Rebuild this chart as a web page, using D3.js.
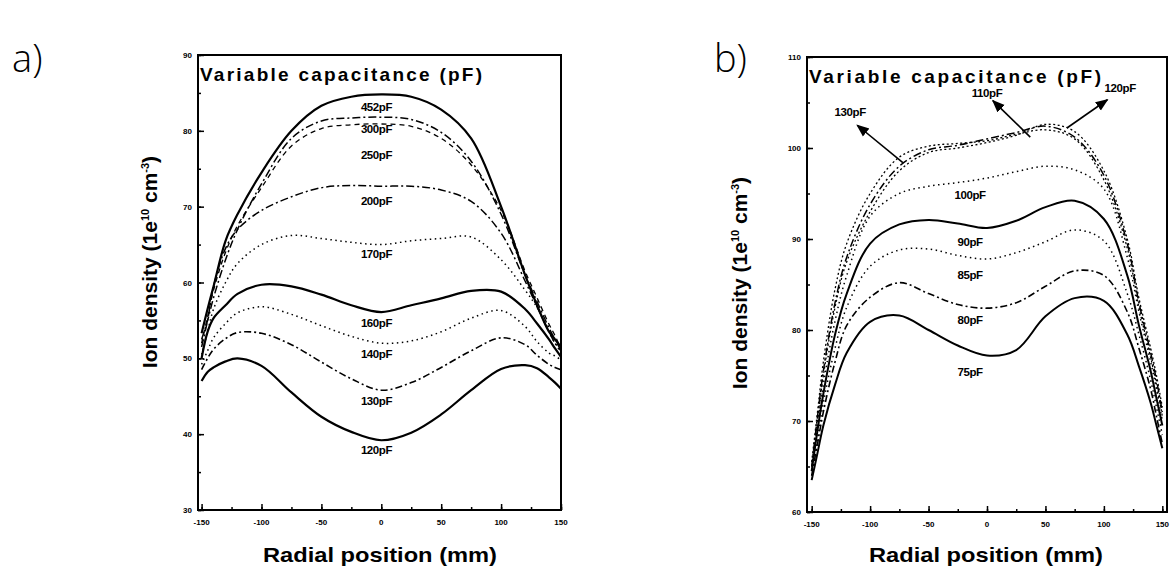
<!DOCTYPE html>
<html>
<head>
<meta charset="utf-8">
<script src="https://cdn.jsdelivr.net/npm/d3@7"></script>
<style>
  body { margin: 0; background: #fff; }
  svg { display: block; font-family: "Liberation Sans", Arial, sans-serif; }
</style>
</head>
<body>
<div id="chart"></div>
<script>
// radial positions (mm) shared by every curve
const xPos = [-150, -145, -140, -130, -120, -100, -75, -50, -25, 0, 25, 50, 75, 100, 120, 130, 140, 145, 150];

// panel a) ion density (1e10 cm-3)
const a452 = [53.3, 56.5, 59.5, 65.5, 69, 74.5, 80, 83.3, 84.5, 84.8, 84.5, 82.8, 79, 70, 61, 57, 53.5, 52.5, 51.5];
const a300 = [52.5, 55, 58, 63, 67, 73, 79, 81.3, 81.7, 81.8, 81.5, 79.8, 76, 69, 61, 57.5, 54, 52.5, 51];
const a250 = [52, 55.5, 59, 64, 67.5, 72.5, 78, 80.3, 80.8, 80.9, 80.6, 79, 75.5, 69.5, 61.5, 58, 54.5, 53, 51.2];
const a200 = [51.5, 55, 59.5, 64.5, 67, 69.5, 71.3, 72.5, 72.8, 72.7, 72.7, 72.2, 70.7, 66.5, 60.2, 56.8, 53.5, 52, 51];
const a170 = [50.5, 53.5, 56.5, 60, 62.5, 65, 66.2, 65.8, 65.3, 65, 65.5, 65.8, 66, 63, 59, 56.7, 53.5, 52, 50.8];
const a160 = [50, 53.5, 55.3, 57, 58.5, 59.7, 59.5, 58.4, 57, 56.1, 57, 57.9, 58.9, 58.8, 56.5, 54.6, 52.5, 51.3, 50.2];
const a140 = [49.2, 51, 52.7, 54.6, 56, 56.8, 55.8, 54.3, 52.9, 52, 52.3, 53.5, 55.3, 56.3, 54.2, 52.2, 50.7, 50.3, 49.8];
const a130 = [48.5, 50, 51.2, 52.6, 53.4, 53.3, 51.8, 49.5, 47.3, 45.8, 46.8, 48.8, 51, 52.7, 51.8, 50.4, 49.2, 48.8, 48.5];
const a120 = [47, 48.2, 48.8, 49.6, 50, 49, 45.5, 42.3, 40.3, 39.2, 40.2, 42.6, 45.8, 48.6, 49.1, 48.7, 47.5, 46.8, 46];
const namesA = ["452pF", "300pF", "250pF", "200pF", "170pF", "160pF", "140pF", "130pF", "120pF"];
// label anchors for panel a (x mm, density)
const labelXA = [-4, -4, -4, -4, -4, -4, -4, -4, -4];
const labelYA = [83.1, 80.3, 76.8, 70.8, 63.8, 54.6, 50.6, 44.4, 37.9];

// panel b)
const b130 = [65.5, 71, 76.5, 84.5, 89.5, 95, 99, 100.2, 100.5, 100.8, 101.5, 102, 101, 96.5, 89, 82.5, 77, 74, 70.5];
const b110 = [65, 70.5, 75.5, 83, 88, 93.8, 98, 99.8, 100.3, 101, 101.7, 102.4, 101.2, 97, 89.5, 83, 77.5, 74.5, 71];
const b120 = [65, 70, 75, 82.5, 87.5, 93, 97.5, 99.5, 100, 100.6, 101.4, 102.6, 101.8, 97.5, 90, 83.5, 78, 75, 71.5];
const b100 = [64.5, 69.5, 74, 81, 86, 92.5, 95, 95.8, 96.2, 96.7, 97.4, 98, 97.6, 95.5, 88, 82, 76.5, 73.5, 70];
const b90 = [64.5, 69, 73, 79.5, 84, 89.5, 91.6, 92.1, 91.7, 91.2, 92, 93.5, 94.2, 92.2, 86, 80.5, 75.5, 72.5, 69.5];
const b85 = [64, 68, 72, 78, 82.5, 87, 88.8, 88.9, 88.2, 87.8, 88.5, 89.7, 91, 89.8, 84, 79.5, 74.5, 71.5, 68.5];
const b80 = [64, 67.5, 71, 76.5, 80.5, 83.6, 85.2, 84, 82.8, 82.4, 83, 84.8, 86.5, 86, 82, 78, 73.5, 70.5, 67.5];
const b75 = [63.5, 66.5, 69.5, 74, 77.5, 80.9, 81.6, 80, 78.3, 77.2, 77.8, 81.5, 83.5, 83.2, 79.5, 76, 72, 69.5, 67];
const namesB = ["130pF", "110pF", "120pF", "100pF", "90pF", "85pF", "80pF", "75pF"];
const labelXB = [-117, 0, 114, -14.5, -14.5, -14.5, -14.5, -14.5];
const labelYB = [104, 106, 106.6, 94.8, 89.7, 86, 81.1, 75.4];
// arrows of panel b: [from x, from y, to x, to y] in data units (curve -> label)
const arrowsB = [[-72, 98.4, -111, 102.5], [37, 101.2, 5, 105.2], [68.4, 102.2, 103, 105.3]];

// tick values
const xTicks = [-150, -100, -50, 0, 50, 100, 150];
const yTicksA = [30, 40, 50, 60, 70, 80, 90];
const yTicksB = [60, 70, 80, 90, 100, 110];

const W = 1171, H = 570;
const svg = d3.select("#chart").append("svg")
    .attr("width", W)
    .attr("height", H);

svg.append("rect").attr("width", W).attr("height", H).attr("fill", "#fff");

svg.append("defs").append("marker")
    .attr("id", "head")
    .attr("viewBox", "0 0 10 10")
    .attr("refX", 9)
    .attr("refY", 5)
    .attr("markerWidth", 8)
    .attr("markerHeight", 8)
    .attr("orient", "auto")
    .append("path")
    .attr("d", "M0,1 L10,5 L0,9 z")
    .attr("fill", "#000");

const solid = { dash: null, w: 2.2 };
const dashDot = { dash: "8,3,2,3", w: 1.5 };
const dashed = { dash: "5,4", w: 1.3 };
const dotted = { dash: "1.5,3.5", w: 1.5 };
const fineDot = { dash: "2,2.5", w: 1.3 };

function drawPanel(cfg) {
    const x = d3.scaleLinear().domain(cfg.xDomain).range([cfg.left, cfg.right]);
    const y = d3.scaleLinear().domain(cfg.yDomain).range([cfg.bottom, cfg.top]);
    const g = svg.append("g");

    // frame
    g.append("rect")
        .attr("x", cfg.left).attr("y", cfg.top)
        .attr("width", cfg.right - cfg.left).attr("height", cfg.bottom - cfg.top)
        .attr("fill", "none").attr("stroke", "#000").attr("stroke-width", 2);

    // axes with inward ticks
    const yMinor = d3.range(cfg.yDomain[0], cfg.yDomain[1] + 0.01, (cfg.yTicks[1] - cfg.yTicks[0]) / 2);
    const xMinor = d3.range(-150, 151, 25);

    g.append("g").attr("transform", `translate(${cfg.left},0)`)
        .call(d3.axisRight(y).tickValues(yMinor).tickSize(3).tickFormat(""))
        .call(a => a.select(".domain").remove());
    g.append("g").attr("class", "y-axis").attr("transform", `translate(${cfg.left},0)`)
        .call(d3.axisRight(y).tickValues(cfg.yTicks).tickSize(6).tickFormat(""))
        .call(a => a.select(".domain").remove());
    g.append("g").attr("transform", `translate(0,${cfg.bottom})`)
        .call(d3.axisTop(x).tickValues(xMinor).tickSize(3).tickFormat(""))
        .call(a => a.select(".domain").remove());
    g.append("g").attr("transform", `translate(0,${cfg.bottom})`)
        .call(d3.axisTop(x).tickValues(xTicks).tickSize(6).tickFormat(""))
        .call(a => a.select(".domain").remove());
    g.selectAll(".tick line").attr("stroke", "#000").attr("stroke-width", 1.5);

    // tick labels
    g.selectAll(".ylab").data(cfg.yTicks).enter().append("text")
        .attr("x", cfg.left - 6).attr("y", d => y(d) + 3)
        .attr("text-anchor", "end").attr("font-size", 8).attr("font-weight", "bold")
        .text(d => d);
    g.selectAll(".xlab").data(xTicks).enter().append("text")
        .attr("x", d => x(d)).attr("y", cfg.bottom + 15)
        .attr("text-anchor", "middle").attr("font-size", 8).attr("font-weight", "bold")
        .text(d => d);

    // curves
    const line = d3.line()
        .x((d, i) => x(xPos[i]))
        .y(d => y(d))
        .curve(d3.curveCatmullRom.alpha(0.5));
    cfg.series.forEach((s, k) => {
        g.append("path")
            .attr("d", line(s))
            .attr("fill", "none")
            .attr("stroke", "#000")
            .attr("stroke-width", cfg.styles[k].w)
            .attr("stroke-dasharray", cfg.styles[k].dash)
            .attr("stroke-linejoin", "round");
    });

    // curve labels
    g.selectAll(".clab").data(cfg.names).enter().append("text")
        .attr("x", (d, i) => x(cfg.labelX[i]))
        .attr("y", (d, i) => y(cfg.labelY[i]) + 4)
        .attr("text-anchor", "middle")
        .attr("font-size", 11.5).attr("font-weight", "bold")
        .attr("letter-spacing", -0.4)
        .text(d => d);

    (cfg.arrows || []).forEach(a => {
        g.append("line")
            .attr("x1", x(a[0])).attr("y1", y(a[1]))
            .attr("x2", x(a[2])).attr("y2", y(a[3]))
            .attr("stroke", "#000").attr("stroke-width", 1.6)
            .attr("marker-end", "url(#head)");
    });

    // inner title
    g.append("text")
        .attr("x", cfg.left + 2).attr("y", cfg.top + 26)
        .attr("font-size", 19).attr("font-weight", "bold")
        .attr("textLength", cfg.titleLen).attr("lengthAdjust", "spacing")
        .text("Variable capacitance (pF)");

    // axis titles
    g.append("text")
        .attr("x", cfg.xTitleX).attr("y", 562)
        .attr("text-anchor", "middle")
        .attr("font-size", 21).attr("font-weight", "bold")
        .attr("textLength", 234).attr("lengthAdjust", "spacingAndGlyphs")
        .text("Radial position (mm)");

    const yt = g.append("text")
        .attr("transform", `translate(${cfg.yTitleX},${cfg.yTitleY}) rotate(-90)`)
        .attr("text-anchor", "middle")
        .attr("font-size", 21).attr("font-weight", "bold");
    yt.append("tspan").text("Ion density (1e");
    yt.append("tspan").attr("dy", -8).attr("font-size", 11).text("10");
    yt.append("tspan").attr("dy", 8).text(" cm");
    yt.append("tspan").attr("dy", -8).attr("font-size", 11).text("-3");
    yt.append("tspan").attr("dy", 8).text(")");

    svg.append("text")
        .attr("x", cfg.tagX).attr("y", 72)
        .attr("font-size", 38)
        .attr("font-family", "Open Sans, sans-serif")
        .attr("font-weight", 300)
        .text(cfg.tag);
}

drawPanel({
    tag: "a)", tagX: 12,
    left: 198, right: 561, top: 55, bottom: 510,
    xDomain: [-153, 150], yDomain: [30, 90],
    yTicks: yTicksA,
    series: [a452, a300, a250, a200, a170, a160, a140, a130, a120],
    styles: [solid, dashDot, dashed, dashDot, dotted, solid, dotted, { dash: "7,3,2,3", w: 1.6 }, solid],
    names: namesA, labelX: labelXA, labelY: labelYA,
    titleLen: 282,
    xTitleX: 380, yTitleX: 157, yTitleY: 262
});

drawPanel({
    tag: "b)", tagX: 714,
    left: 807, right: 1167, top: 57, bottom: 512,
    xDomain: [-154, 154], yDomain: [60, 110],
    yTicks: yTicksB,
    series: [b130, b110, b120, b100, b90, b85, b80, b75],
    styles: [fineDot, dashDot, fineDot, dotted, { dash: null, w: 2 }, dotted, { dash: "7,3,2,3", w: 1.6 }, { dash: null, w: 2 }],
    names: namesB, labelX: labelXB, labelY: labelYB,
    arrows: arrowsB,
    titleLen: 292,
    xTitleX: 986, yTitleX: 747, yTitleY: 283
});
</script>
</body>
</html>
